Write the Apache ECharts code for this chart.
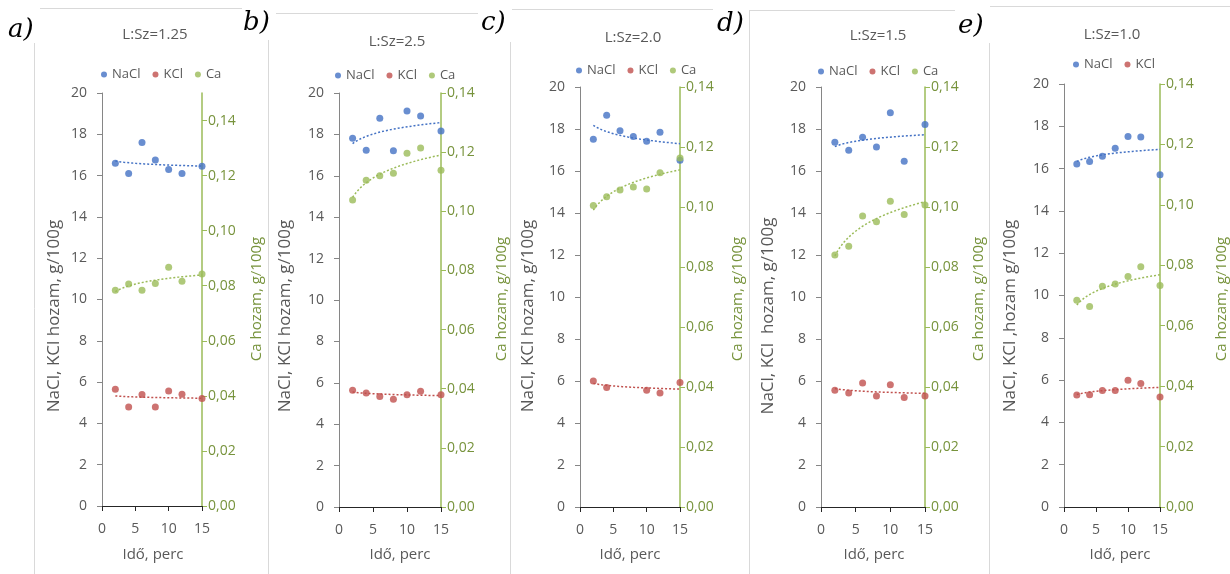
<!DOCTYPE html>
<html><head><meta charset="utf-8">
<script src="https://cdn.jsdelivr.net/npm/echarts@6/dist/echarts.min.js"></script>
<style>html,body{margin:0;padding:0;background:#fff}#c{width:1230px;height:574px}</style>
</head><body><div id="c"></div>
<script>
// ---------- data ----------
const timeMin = [2, 4, 6, 8, 10, 12, 15];
const panelLetters = ['a)', 'b)', 'c)', 'd)', 'e)'];
const panelTitles = ['L:Sz=1.25', 'L:Sz=2.5', 'L:Sz=2.0', 'L:Sz=1.5', 'L:Sz=1.0'];
const leftAxisTitles = ['NaCl, KCl hozam, g/100g', 'NaCl, KCl hozam, g/100g', 'NaCl, KCl hozam, g/100g', 'NaCl, KCl  hozam, g/100g', 'NaCl, KCl ,hozam g/100g'];
const rightAxisTitle = 'Ca hozam, g/100g';
const xAxisTitle = 'Idő, perc';
const legendNames = [['NaCl', 'KCl', 'Ca'], ['NaCl', 'KCl', 'Ca'], ['NaCl', 'KCl', 'Ca'], ['NaCl', 'KCl', 'Ca'], ['NaCl', 'KCl']];

const naclA = [16.6, 16.1, 17.6, 16.75, 16.3, 16.1, 16.45];
const kclA  = [5.65, 4.8, 5.4, 4.8, 5.57, 5.41, 5.21];
const caA   = [0.0784, 0.0806, 0.0784, 0.0808, 0.0867, 0.0816, 0.0843];

const naclB = [17.81, 17.24, 18.78, 17.21, 19.13, 18.89, 18.16];
const kclB  = [5.64, 5.51, 5.34, 5.21, 5.42, 5.59, 5.42];
const caB   = [0.1038, 0.1105, 0.1120, 0.1129, 0.1196, 0.1214, 0.1139];

const naclC = [17.51, 18.65, 17.92, 17.64, 17.42, 17.85, 16.51];
const kclC  = [6.0, 5.69, null, null, 5.56, 5.43, 5.93];
const caC   = [0.1005, 0.1034, 0.1057, 0.1067, 0.1060, 0.1114, 0.1163];

const naclD = [17.37, 16.99, 17.61, 17.14, 18.77, 16.46, 18.21];
const kclD  = [5.56, 5.43, 5.91, 5.28, 5.82, 5.21, 5.29];
const caD   = [0.0840, 0.0869, 0.0970, 0.0951, 0.1019, 0.0975, 0.1007];

const naclE = [16.22, 16.33, 16.58, 16.96, 17.52, 17.49, 15.71];
const kclE  = [5.30, 5.31, 5.51, 5.51, 5.99, 5.84, 5.20];
const caE   = [0.0684, 0.0664, 0.0731, 0.0738, 0.0763, 0.0795, 0.0733];

const leftAxisMax = 20, leftAxisStep = 2;
const rightAxisMax = [0.15, 0.14, 0.14, 0.14, 0.14];
const rightAxisStep = 0.02;
const rightTickValues = [0, 0.02, 0.04, 0.06, 0.08, 0.10, 0.12, 0.14];
const xAxisMax = 15, xAxisStep = 5;

const panelData = [
  {nacl: naclA, kcl: kclA, ca: caA},
  {nacl: naclB, kcl: kclB, ca: caB},
  {nacl: naclC, kcl: kclC, ca: caC},
  {nacl: naclD, kcl: kclD, ca: caD},
  {nacl: naclE, kcl: kclE, ca: caE}
];

// ---------- layout (pixels) ----------
const layout = [
  {left: 102, top: 93, width: 100, height: 413, title: [155, 35], letter: [8, 30], legend: [101, 68], lName: 54, rName: 257, xName: 153,
   frame: {ty: 8, tx0: 40, tx1: 242, vx: 34, vy0: 43}},
  {left: 339, top: 93, width: 102, height: 414, title: [397, 42], letter: [243, 23], legend: [335, 69], lName: 285, rName: 502, xName: 400,
   frame: {ty: 13, tx0: 276, tx1: 478, vx: 268, vy0: 40}},
  {left: 580, top: 87, width: 100, height: 420, title: [633, 38], letter: [481, 23], legend: [576, 64], lName: 528, rName: 738, xName: 630,
   frame: {ty: 9, tx0: 512, tx1: 713, vx: 510, vy0: 42}},
  {left: 821, top: 87, width: 104, height: 420, title: [878, 36], letter: [717, 24], legend: [818, 65], lName: 768, rName: 979, xName: 874,
   frame: {ty: 10, tx0: 750, tx1: 955, vx: 749, vy0: 10}},
  {left: 1064, top: 84, width: 96, height: 423, title: [1112, 35], letter: [958, 26], legend: [1073, 58], lName: 1010, rName: 1222, xName: 1120,
   frame: {ty: 6, tx0: 990, tx1: 1230, vx: 989, vy0: 43}}
];

const FONT = '"Open Sans", "Noto Sans", sans-serif';
const C_NACL = '#4472C4', C_KCL = '#C0504D', C_CA = '#9BBB59';
const C_TEXT = '#595959', C_GREEN_TXT = '#77933C';

function pairs(ys) {
  return timeMin.map((x, i) => [x, ys[i]]).filter(p => p[1] != null);
}
// logarithmic least-squares trendline (as Excel's log trendline) from the data
function logTrend(ys) {
  const pts = pairs(ys);
  const n = pts.length;
  const lx = pts.map(p => Math.log(p[0]));
  const mx = lx.reduce((a, b) => a + b, 0) / n;
  const my = pts.reduce((a, p) => a + p[1], 0) / n;
  let sxy = 0, sxx = 0;
  pts.forEach((p, i) => { sxy += (lx[i] - mx) * (p[1] - my); sxx += (lx[i] - mx) * (lx[i] - mx); });
  const b = sxy / sxx, a = my - b * mx;
  const x0 = pts[0][0], x1 = pts[n - 1][0];
  const out = [];
  for (let k = 0; k <= 60; k++) { const x = x0 + (x1 - x0) * k / 60; out.push([x, a + b * Math.log(x)]); }
  return out;
}

const grids = [], xAxes = [], yAxes = [], series = [], legends = [], graphics = [];

layout.forEach((L, p) => {
  grids.push({left: L.left, top: L.top, width: L.width, height: L.height, containLabel: false});
  xAxes.push({
    gridIndex: p, type: 'value', min: 0, max: xAxisMax, interval: xAxisStep,
    axisLine: {onZero: false, lineStyle: {color: '#262626', width: 1}},
    axisTick: {show: true, length: 5, lineStyle: {color: '#262626'}},
    axisLabel: {color: C_TEXT, fontSize: 14, fontFamily: FONT, margin: 16},
    splitLine: {show: false}
  });
  yAxes.push({
    gridIndex: p, type: 'value', position: 'left', min: 0, max: leftAxisMax, interval: leftAxisStep,
    axisLine: {show: true, lineStyle: {color: '#868686', width: 1}},
    axisTick: {show: true, length: 5, lineStyle: {color: '#868686'}},
    axisLabel: {color: C_TEXT, fontSize: 14, fontFamily: FONT, margin: 15},
    splitLine: {show: false}
  });
  yAxes.push({
    gridIndex: p, type: 'value', position: 'right', min: 0, max: rightAxisMax[p], interval: rightAxisStep,
    axisLine: {show: true, lineStyle: {color: C_CA, width: 1.5}},
    axisTick: {show: true, length: 5, customValues: rightTickValues, lineStyle: {color: C_CA}},
    axisLabel: {customValues: rightTickValues, color: C_GREEN_TXT, fontSize: 14, fontFamily: FONT, margin: 6,
      formatter: v => v.toFixed(2).replace('.', ',')},
    splitLine: {show: false}
  });

  const d = panelData[p];
  const defs = [
    {name: 'NaCl', ys: d.nacl, color: C_NACL, y: 2 * p},
    {name: 'KCl', ys: d.kcl, color: C_KCL, y: 2 * p},
    {name: 'Ca', ys: d.ca, color: C_CA, y: 2 * p + 1}
  ];
  defs.forEach(s => {
    series.push({
      name: s.name + ' trend', type: 'line', xAxisIndex: p, yAxisIndex: s.y, data: logTrend(s.ys),
      showSymbol: false, symbol: 'none', silent: true, z: 2,
      lineStyle: {color: s.color, width: 1.5, type: [2, 2]}
    });
    series.push({
      name: s.name, type: 'scatter', xAxisIndex: p, yAxisIndex: s.y, data: pairs(s.ys),
      symbolSize: 7, itemStyle: {color: s.color}, z: 3
    });
  });

  legends.push({
    left: L.legend[0], top: L.legend[1], padding: 0, itemWidth: 6, itemHeight: 6, itemGap: 12,
    icon: 'circle', data: legendNames[p], selectedMode: false,
    textStyle: {color: C_TEXT, fontSize: 13, fontFamily: FONT}
  });

  const F = L.frame;
  graphics.push({type: 'line', shape: {x1: F.tx0, y1: F.ty + 0.5, x2: F.tx1, y2: F.ty + 0.5}, style: {stroke: '#d9d9d9', lineWidth: 1}, silent: true});
  graphics.push({type: 'line', shape: {x1: F.vx + 0.5, y1: F.vy0, x2: F.vx + 0.5, y2: 574}, style: {stroke: '#d9d9d9', lineWidth: 1}, silent: true});

  graphics.push({type: 'text', x: L.title[0], y: L.title[1], style: {text: panelTitles[p], fill: C_TEXT, font: '15px ' + FONT, align: 'center', verticalAlign: 'middle'}});
  graphics.push({type: 'text', x: L.letter[0], y: L.letter[1], style: {text: panelLetters[p], fill: '#000', font: 'italic 26px "DejaVu Serif", serif', align: 'left', verticalAlign: 'middle'}});
  graphics.push({type: 'text', x: L.lName, y: 316, rotation: Math.PI / 2, style: {text: leftAxisTitles[p], fill: C_TEXT, font: '17px ' + FONT, align: 'center', verticalAlign: 'middle'}});
  graphics.push({type: 'text', x: L.rName, y: 299, rotation: Math.PI / 2, style: {text: rightAxisTitle, fill: C_GREEN_TXT, font: '15px ' + FONT, align: 'center', verticalAlign: 'middle'}});
  graphics.push({type: 'text', x: L.xName, y: 555, style: {text: xAxisTitle, fill: C_TEXT, font: '15px ' + FONT, align: 'center', verticalAlign: 'middle'}});
});

const chart = echarts.init(document.getElementById('c'), null, {renderer: 'canvas'});
chart.setOption({
  animation: false,
  backgroundColor: '#fff',
  grid: grids, xAxis: xAxes, yAxis: yAxes, series: series, legend: legends,
  graphic: graphics
});
</script></body></html>
